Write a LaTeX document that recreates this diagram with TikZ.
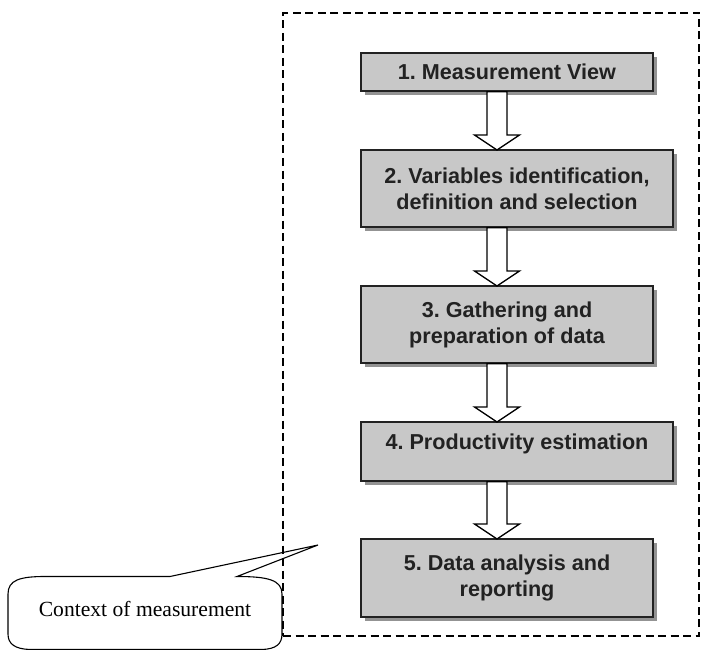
\documentclass[tikz,border=0pt]{standalone}
\usepackage{fontspec}
\setmainfont{Liberation Serif}
\setsansfont{Liberation Sans}
\frenchspacing
\usetikzlibrary{shadows,calc}
\definecolor{boxfill}{HTML}{C8C8C8}
\definecolor{boxline}{HTML}{222222}
\definecolor{shadowc}{HTML}{939393}
\tikzset{
  stepbox/.style={draw=boxline, line width=1.4pt, fill=boxfill, rectangle, outer sep=0pt,
    inner sep=0pt, align=center, text=boxline,
    font=\sffamily\bfseries\fontsize{21.6}{26}\selectfont\frenchspacing,
    drop shadow={shadow xshift=4pt, shadow yshift=-4pt, fill=shadowc, opacity=1}},
  blockarrow/.style={draw=black, line width=1.3pt, fill=white, line join=miter},
  framebox/.style={draw=black, line width=1.1pt, dash pattern=on 8pt off 4.5pt, rectangle, outer sep=0pt, inner sep=0pt},
  calloutline/.style={draw=black, line width=1.1pt, line join=miter},
}
\begin{document}
\begin{tikzpicture}[x=1pt,y=-1pt]
\useasboundingbox (0,0) rectangle (704,650);
% frame
\node[framebox, minimum width=416pt, minimum height=623pt] (frame) at (491,324.5) {};
% boxes
\node[stepbox, minimum width=292pt, minimum height=38pt] (b1) at (507,72) {1. Measurement View};
\node[stepbox, minimum width=312pt, minimum height=77pt] (b2) at (517,188.5) {2. Variables identification,\\definition and selection};
\node[stepbox, minimum width=292pt, minimum height=77pt] (b3) at (507,324.5) {3. Gathering and\\preparation of data};
\node[stepbox, minimum width=312pt, minimum height=59pt, text height=15pt, text depth=20pt] (b4) at (517,451.5) {4. Productivity estimation};
\node[stepbox, minimum width=292pt, minimum height=78pt] (b5) at (507,578) {5. Data analysis and\\reporting};
% arrow axis
\coordinate (ax) at (497,0);
\foreach \a/\b in {b1/b2,b2/b3,b3/b4,b4/b5}{
  \draw[blockarrow] let \p1=(\a.south -| ax), \p2=(\b.north -| ax) in
    (\x1-10pt,\y1-0.7pt) -- (\x1-10pt,\y2+15pt) -- (\x1-22.5pt,\y2+15pt) -- (\x2,\y2)
    -- (\x1+22.5pt,\y2+15pt) -- (\x1+10pt,\y2+15pt) -- (\x1+10pt,\y1-0.7pt) -- cycle;
}
% callout
\coordinate (tip) at (318,545);
\node[font=\fontsize{21.6}{25}\selectfont, inner sep=0pt] (ctx) at (145,609) {Context of measurement};
\draw[calloutline] (170,576.5) -- (tip) -- (237,576.5)
  .. controls (268,576.5) and (282,580) .. (282,594)
  -- (282,634) .. controls (282,644) and (276,649) .. (262,649.5)
  -- (30,649.5) .. controls (15,649) and (8,644) .. (8,634)
  -- (8,594) .. controls (8,580) and (20,576.5) .. (45,576.5) -- cycle;
\end{tikzpicture}
\end{document}
